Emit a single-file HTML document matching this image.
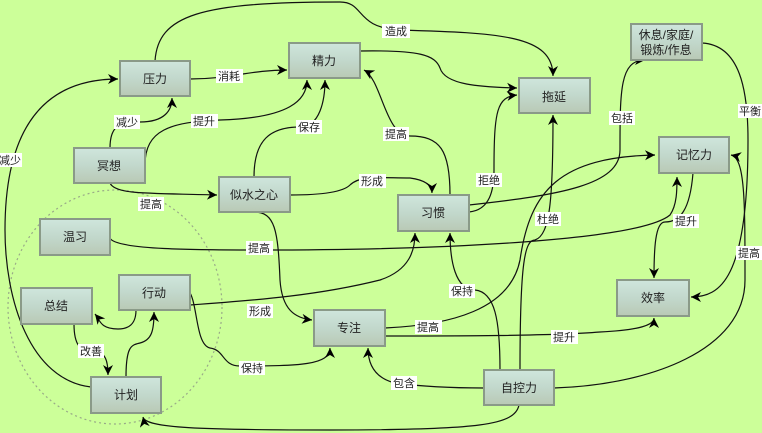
<!DOCTYPE html>
<html><head><meta charset="utf-8"><style>
html,body{margin:0;padding:0;background:#ccff99;}
svg{display:block;font-family:"Liberation Sans","Noto Sans CJK SC",sans-serif;}
.n rect{fill:url(#g);stroke:#8a9a88;stroke-width:2;}
.n text{font-size:12px;fill:#222;text-anchor:middle;}
.e{fill:none;stroke:#111;stroke-width:1.2;marker-end:url(#a);}
.f{fill:none;stroke:#111;stroke-width:1.2;}
.l rect{fill:#fff;}
.l text{font-size:11px;fill:#222;text-anchor:middle;}
</style></head><body>
<svg width="762" height="433" viewBox="0 0 762 433" xmlns="http://www.w3.org/2000/svg">
<defs>
<linearGradient id="g" x1="0" y1="0" x2="0" y2="1"><stop offset="0" stop-color="#cfe6dc"/><stop offset="0.5" stop-color="#c2d8cc"/><stop offset="1" stop-color="#b9c9b5"/></linearGradient>
<marker id="a" markerWidth="12" markerHeight="12" refX="10" refY="5" orient="auto" markerUnits="userSpaceOnUse"><path d="M0,0 L10,5 L0,10 L3,5 z" fill="#000"/></marker>
</defs>
<rect width="762" height="433" fill="#ccff99"/>
<ellipse cx="115" cy="307" rx="107" ry="117" fill="none" stroke="#99aa88" stroke-width="1.2" stroke-dasharray="2,3"/>

<path class="e" d="M155,61 C158,15 200,2 340,2 C365,2 355,28 400,30 C500,33 553,35 553,76"/>
<path class="e" d="M190,79 C230,79 250,70 287,70"/>
<path class="e" d="M110,148 C110,125 120,122 140,122 C165,122 172,110 172,98"/>
<path class="e" d="M145,165 C145,130 170,122 220,120 C290,118 307,100 307,80"/>
<path class="e" d="M254,177 C254,140 270,127 300,127 C320,127 325,100 325,80"/>
<path class="e" d="M110,183 C115,195 150,193 217,195"/>
<path class="e" d="M290,195 C330,195 345,190 350,185 C360,175 380,178 410,178 C425,180 432,185 432,193"/>
<path class="e" d="M360,51 C420,50 435,55 440,68 C445,85 480,87 517,88"/>
<path class="e" d="M450,195 C450,150 440,136 410,136 C385,136 382,80 364,70"/>
<path class="e" d="M469,212 C490,210 494,190 494,170 C494,110 497,97 517,95"/>
<path class="e" d="M469,205 C560,195 620,185 620,150 C620,90 620,60 645,60"/>
<path class="e" d="M702,43 C740,45 748,90 748,140 C748,280 720,297 691,297"/>
<path class="e" d="M693,173 C690,210 680,222 665,222 C655,222 654,250 654,278"/>
<path class="e" d="M110,238 C115,250 200,250 260,250 C450,250 640,240 670,215 C677,205 677,190 677,177"/>
<path class="e" d="M254,212 C275,212 278,230 280,280 C282,310 295,318 312,320"/>
<path class="e" d="M190,305 C260,300 320,295 380,280 C410,270 415,250 415,233"/>
<path class="e" d="M188,290 C198,300 195,345 210,348 C225,350 222,366 240,366 C300,366 330,365 330,348"/>
<path class="e" d="M385,328 C450,325 510,310 520,260 C530,190 560,157 655,155"/>
<path class="e" d="M385,336 C450,336 550,336 600,332 C640,330 654,325 654,318"/>
<path class="e" d="M484,388 C440,388 410,385 395,383 C375,378 368,365 368,348"/>
<path class="e" d="M500,370 C500,320 495,292 475,290 C455,290 450,260 450,233"/>
<path class="e" d="M520,370 C520,260 525,240 535,240 C550,235 553,200 553,115"/>
<path class="e" d="M554,388 C650,385 745,350 745,280 C745,200 745,158 731,155"/>
<path class="e" d="M519,405 C515,425 480,430 330,430 C200,430 145,428 143,417"/>
<path class="e" d="M91,387 C30,380 5,300 5,230 C5,120 50,79 118,79"/>
<path class="e" d="M136,310 C136,325 128,329 118,329 C100,329 100,320 95,314"/>
<path class="e" d="M74,324 C74,345 80,352 95,352 C105,352 108,360 108,375"/>
<path class="e" d="M126,377 C126,345 132,345 140,343 C152,340 154,330 154,312"/>

<g class="l">
<rect x="382" y="24" width="28" height="14"/><text x="396" y="35">造成</text>
<rect x="216" y="69" width="27" height="14"/><text x="229" y="80">消耗</text>
<rect x="114" y="115" width="26" height="14"/><text x="127" y="126">减少</text>
<rect x="191" y="114" width="27" height="14"/><text x="204" y="125">提升</text>
<rect x="296" y="120" width="26" height="14"/><text x="309" y="131">保存</text>
<rect x="138" y="197" width="26" height="14"/><text x="151" y="208">提高</text>
<rect x="359" y="174" width="27" height="14"/><text x="372" y="185">形成</text>
<rect x="383" y="127" width="26" height="14"/><text x="396" y="138">提高</text>
<rect x="476" y="173" width="26" height="14"/><text x="489" y="184">拒绝</text>
<rect x="609" y="111" width="26" height="14"/><text x="622" y="122">包括</text>
<rect x="738" y="104" width="24" height="14"/><text x="750" y="115">平衡</text>
<rect x="673" y="214" width="26" height="14"/><text x="686" y="225">提升</text>
<rect x="0" y="153" width="22" height="14"/><text x="10" y="164">减少</text>
<rect x="246" y="241" width="27" height="14"/><text x="259" y="252">提高</text>
<rect x="535" y="212" width="26" height="14"/><text x="548" y="223">杜绝</text>
<rect x="736" y="246" width="26" height="14"/><text x="749" y="257">提高</text>
<rect x="247" y="304" width="26" height="14"/><text x="260" y="315">形成</text>
<rect x="449" y="284" width="26" height="14"/><text x="462" y="295">保持</text>
<rect x="415" y="320" width="27" height="14"/><text x="428" y="331">提高</text>
<rect x="551" y="330" width="27" height="14"/><text x="564" y="341">提升</text>
<rect x="78" y="344" width="26" height="14"/><text x="91" y="355">改善</text>
<rect x="239" y="361" width="26" height="14"/><text x="252" y="372">保持</text>
<rect x="391" y="376" width="26" height="14"/><text x="404" y="387">包含</text>
</g>

<g class="n">
<rect x="120" y="61" width="70" height="35"/><text x="155" y="83">压力</text>
<rect x="289" y="43" width="71" height="35"/><text x="324" y="65">精力</text>
<rect x="74" y="148" width="71" height="35"/><text x="109" y="170">冥想</text>
<rect x="219" y="177" width="71" height="35"/><text x="254" y="199">似水之心</text>
<rect x="519" y="78" width="71" height="35"/><text x="554" y="101">拖延</text>
<rect x="631" y="24" width="71" height="36"/><text x="666" y="39">休息/家庭/</text><text x="666" y="54">锻炼/作息</text>
<rect x="659" y="137" width="70" height="36"/><text x="694" y="159">记忆力</text>
<rect x="398" y="195" width="71" height="36"/><text x="433" y="217">习惯</text>
<rect x="40" y="219" width="70" height="36"/><text x="75" y="241">温习</text>
<rect x="21" y="288" width="71" height="36"/><text x="56" y="310">总结</text>
<rect x="119" y="275" width="71" height="35"/><text x="154" y="297">行动</text>
<rect x="314" y="310" width="71" height="36"/><text x="349" y="332">专注</text>
<rect x="617" y="280" width="72" height="36"/><text x="653" y="302">效率</text>
<rect x="91" y="377" width="70" height="36"/><text x="126" y="399">计划</text>
<rect x="484" y="370" width="70" height="35"/><text x="519" y="392">自控力</text>
</g>
</svg>
</body></html>
